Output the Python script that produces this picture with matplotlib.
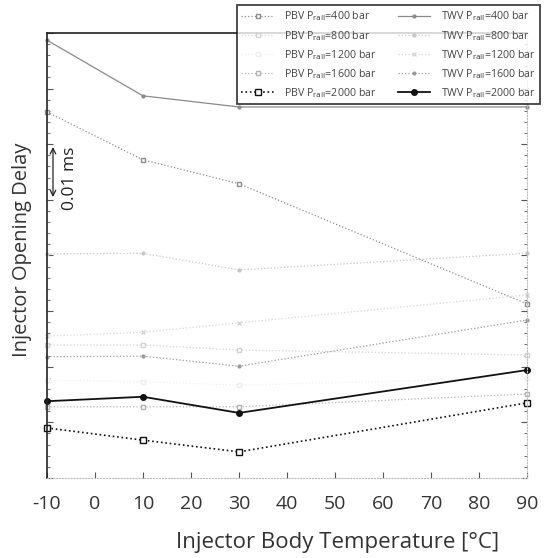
import matplotlib
matplotlib.use('Agg')
import matplotlib.pyplot as plt
from matplotlib.ticker import MultipleLocator

plt.rcParams['font.family'] = ['Open Sans', 'DejaVu Sans']

# Temperatures and delays (relative, ms)
temps = [-10, 10, 30, 90]

pbv_400 = [0.0658, 0.0572, 0.0529, 0.0313]
pbv_800 = [0.0239, 0.0239, 0.0230, 0.0221]
pbv_1200 = [0.0176, 0.0173, 0.0167, 0.0180]
pbv_1600 = [0.0128, 0.0128, 0.0128, 0.0151]
pbv_2000 = [0.0090, 0.0068, 0.0047, 0.0135]

twv_400 = [0.0787, 0.0687, 0.0667, 0.0667]
twv_800 = [0.0403, 0.0404, 0.0374, 0.0404]
twv_1200 = [0.0255, 0.0262, 0.0279, 0.0329]
twv_1600 = [0.0218, 0.0219, 0.0201, 0.0284]
twv_2000 = [0.0138, 0.0146, 0.0117, 0.0194]

pressures = [400, 800, 1200, 1600, 2000]
x_ticks = [-10, 0, 10, 20, 30, 40, 50, 60, 70, 80, 90]

fig = plt.figure(figsize=(5.56, 5.58), dpi=100)
ax = fig.add_axes([0.0845, 0.1434, 0.8633, 0.7975])

# (color, linestyle, marker, markersize, marker face)
pbv_styles = [
    ('#8c8c8c', ':', 's', 3, 'white'),
    ('#d2d2d2', ':', 's', 3, 'white'),
    ('#efefef', ':', 's', 3, 'white'),
    ('#b4b4b4', ':', 's', 3, 'white'),
    ('#111111', ':', 's', 4.5, 'white'),
]
twv_styles = [
    ('#8a8a8a', '-', 'o', 2, '#8a8a8a'),
    ('#c6c6c6', ':', 'o', 2, '#c6c6c6'),
    ('#d6d6d6', ':', 'x', 3, '#d6d6d6'),
    ('#9a9a9a', ':', 'o', 2, '#9a9a9a'),
    ('#111111', '-', 'o', 4, '#111111'),
]

pbv_data = [pbv_400, pbv_800, pbv_1200, pbv_1600, pbv_2000]
twv_data = [twv_400, twv_800, twv_1200, twv_1600, twv_2000]

for p, vals, (c, ls, mk, ms, mf) in zip(pressures, pbv_data, pbv_styles):
    ax.plot(temps, vals, color=c, ls=ls, lw=1.2 if p == 2000 else 0.9,
            marker=mk, ms=ms, mfc=mf, mec=c, clip_on=False,
            label=r'PBV P$_{\rm rail}$=%d bar' % p)
for p, vals, (c, ls, mk, ms, mf) in zip(pressures, twv_data, twv_styles):
    ax.plot(temps, vals, color=c, ls=ls, lw=1.3 if p == 2000 else 0.9,
            marker=mk, ms=ms, mfc=mf, mec=c, clip_on=False,
            label=r'TWV P$_{\rm rail}$=%d bar' % p)

ax.set_xlim(-10, 90)
ax.set_ylim(0, 0.08)
ax.set_xticks(x_ticks)
ax.set_xticklabels([str(t) for t in x_ticks], fontsize=14, color='#333333')
ax.yaxis.set_major_locator(MultipleLocator(0.01))
ax.yaxis.set_minor_locator(MultipleLocator(0.002))
ax.set_yticklabels([])
ax.tick_params(axis='both', which='both', direction='in', top=False, right=True,
               color='#555555')
ax.tick_params(axis='both', which='major', length=4)
ax.tick_params(axis='x', which='major', pad=12)
ax.tick_params(axis='both', which='minor', length=2)

for side in ['left', 'top']:
    ax.spines[side].set_color('#222222')
    ax.spines[side].set_linewidth(1.2)
for side in ['right', 'bottom']:
    ax.spines[side].set_color('#bbbbbb')
    ax.spines[side].set_linewidth(0.8)
    ax.spines[side].set_linestyle(':')

fig.text(0.608, 0.027, 'Injector Body Temperature [°C]', fontsize=16,
         color='#333333', ha='center', va='center')
fig.text(0.040, 0.552, 'Injector Opening Delay', fontsize=14.5, rotation=90,
         color='#333333', ha='center', va='center')

# scale bar for one major y interval
ax.annotate('', xy=(-8.75, 0.0595), xytext=(-8.75, 0.0505),
            arrowprops=dict(arrowstyle='<->', color='#222222', lw=0.9,
                            shrinkA=0, shrinkB=0))
ax.text(-5.2, 0.0538, '0.01 ms', rotation=90, fontsize=12.5, color='#222222',
        ha='center', va='center')

leg = fig.legend(loc='upper left', bbox_to_anchor=(0.417, 1.0), ncol=2,
                 fontsize=7.7, frameon=True, fancybox=False, borderpad=0.4,
                 labelspacing=0.5, handlelength=3.0, handletextpad=1.0,
                 columnspacing=2.0, labelcolor='#444444')
leg.get_frame().set_edgecolor('#111111')
leg.get_frame().set_linewidth(1.3)

fig.savefig('out.png', dpi=100)
